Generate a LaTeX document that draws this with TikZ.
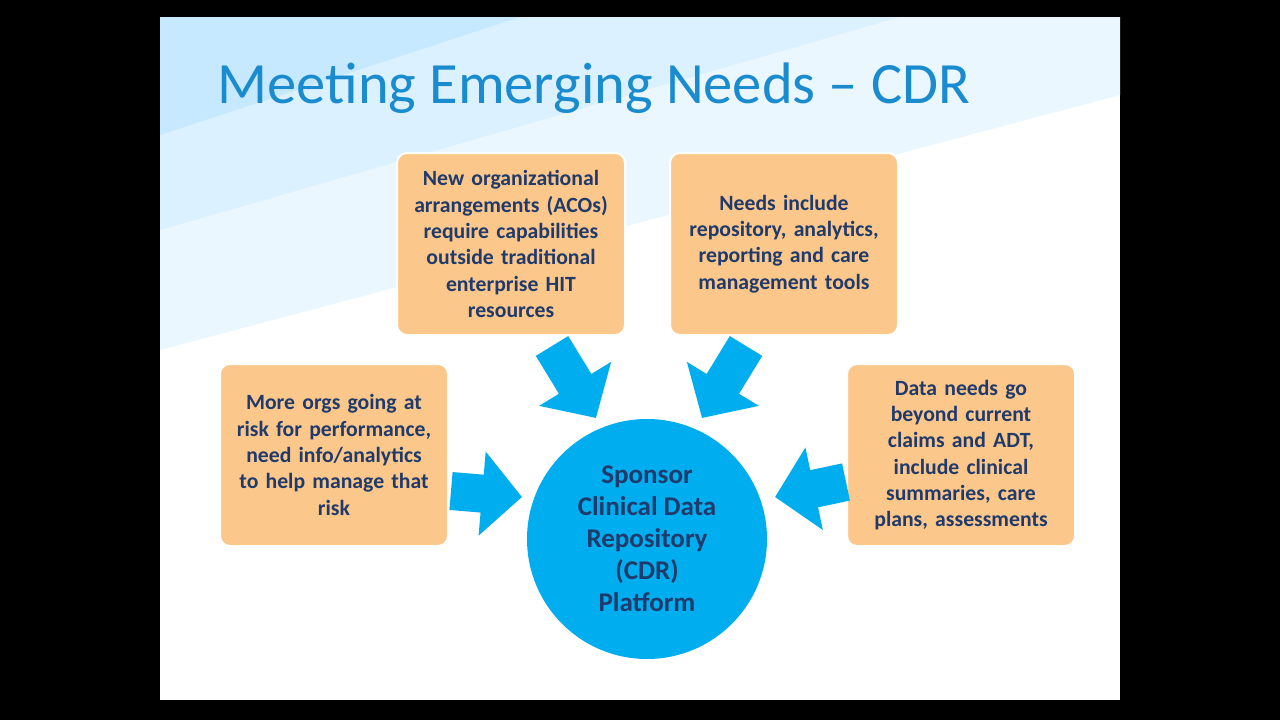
\documentclass[tikz,border=0pt]{standalone}
\usepackage{fontspec}
\setmainfont{Carlito}
\usetikzlibrary{arrows.meta}
\definecolor{navy}{HTML}{1F3A6B}
\definecolor{peach}{HTML}{FCC78A}
\definecolor{cyanb}{HTML}{00AEEF}
\definecolor{titleb}{HTML}{1B8BCF}
\begin{document}
\begin{tikzpicture}[x=1pt,y=-1pt,
  box/.style={draw=white,line width=2pt,fill=peach,rounded corners=10pt,minimum width=228pt,minimum height=182pt,text width=226pt,align=center,font=\bfseries\fontsize{21.7}{26.3}\selectfont,text=navy,inner sep=0pt},
  blk/.style={cyanb,line width=38pt,-{Triangle[length=40pt,width=82pt]}}]
\useasboundingbox (0,0) rectangle (1280,720);
\fill[black] (0,0) rectangle (1280,720);
\fill[white] (160,17) rectangle (1120,700);
\fill[blue!40!cyan!8] (160,17) -- (1120,17) -- (1120,95) -- (160,350) -- cycle;
\fill[blue!40!cyan!14] (160,17) -- (900,17) -- (160,230) -- cycle;
\fill[blue!40!cyan!22] (160,17) -- (520,17) -- (160,135) -- cycle;
\node[anchor=west,text=titleb,font=\fontsize{58.5}{60}\selectfont] (title) at (214,88) {Meeting Emerging Needs – CDR};
\node[box] (tl) at (511,244) {New organizational\\arrangements (ACOs)\\require capabilities\\outside traditional\\enterprise HIT\\resources};
\node[box] (tr) at (784,244) {Needs include\\repository, analytics,\\reporting and care\\management tools};
\node[box] (l) at (334,455) {More orgs going at\\risk for performance,\\need info/analytics\\to help manage that\\risk};
\node[box] (r) at (961,455) {Data needs go\\beyond current\\claims and ADT,\\include clinical\\summaries, care\\plans, assessments};
\node[circle,fill=cyanb,minimum size=240pt,inner sep=0pt,align=center,text=navy,font=\bfseries\fontsize{27}{32}\selectfont] (c) at (647,539) {Sponsor\\Clinical Data\\Repository\\(CDR)\\Platform};
\coordinate (a1) at (552,346); \coordinate (b1) at (596,418);
\coordinate (a2) at (746,346); \coordinate (b2) at (702,418);
\coordinate (a3) at (451,491); \coordinate (b3) at (522,497);
\coordinate (a4) at (846,482); \coordinate (b4) at (775,497);
\draw[blk] (a1) -- (b1);
\draw[blk] (a2) -- (b2);
\draw[blk] (a3) -- (b3);
\draw[blk] (a4) -- (b4);
\end{tikzpicture}
\end{document}
